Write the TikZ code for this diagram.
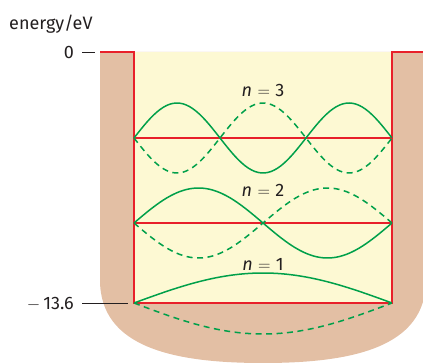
\documentclass[tikz,border=0pt]{standalone}
\usepackage{fontspec}
\setmainfont{Fira Sans}
\definecolor{wallbrown}{HTML}{E3BFA4}
\definecolor{wellyellow}{HTML}{FDF9D3}
\definecolor{levelred}{HTML}{E8202A}
\definecolor{wavegreen}{HTML}{00A04A}
\definecolor{txt}{HTML}{231F20}
\tikzset{
  lbl/.style={text=txt, font=\fontsize{18}{21}\selectfont, inner sep=0pt},
  tick/.style={draw=txt, line width=0.8pt},
  redline/.style={draw=levelred, line width=1.6pt},
  wave/.style={draw=wavegreen, line width=1.5pt},
  wavedash/.style={wave, dash pattern=on 6pt off 4.5pt}
}
\newcommand{\nlev}[1]{\textit{n}\hspace{0.3em}$=$\hspace{0.3em}#1}
\begin{document}
\begin{tikzpicture}[x=1pt,y=-1pt]
\useasboundingbox (0,0) rectangle (423,363);
% wall
\fill[wallbrown] (100,52) -- (100,280) .. controls (100,348) and (175,363) .. (263,363)
  .. controls (351,363) and (426,348) .. (426,280) -- (426,52) -- cycle;
\fill[wellyellow] (134,52) rectangle (392,303);
% levels
\draw[redline] (100,52) -- (134,52) -- (134,303) -- (392,303) -- (392,52) -- (423,52);
\coordinate (l2a) at (134,223); \coordinate (l2b) at (392,223);
\coordinate (l3a) at (134,138); \coordinate (l3b) at (392,138);
\draw[redline] (l2a) -- (l2b);
\draw[redline] (l3a) -- (l3b);
% waves n=3
\draw[wave] plot[domain=0:1, samples=80] ({134+258*\x}, {138-35*sin(540*\x)});
\draw[wavedash] plot[domain=0:1, samples=80] ({134+258*\x}, {138+35*sin(540*\x)});
% waves n=2
\draw[wave] plot[domain=0:1, samples=80] ({134+258*\x}, {223-35*sin(360*\x)});
\draw[wavedash] plot[domain=0:1, samples=80] ({134+258*\x}, {223+35*sin(360*\x)});
% waves n=1
\draw[wave] plot[domain=0:1, samples=80] ({134+258*\x}, {303-30*sin(180*\x)});
\draw[wavedash] plot[domain=0:1, samples=80] ({134+258*\x}, {303+31*sin(180*\x)});
% labels
\node[lbl, anchor=west] (axis) at (9,24) {energy/eV};
\node[lbl, anchor=east] (zero) at (74,53) {0};
\node[lbl, anchor=east] (bottom) at (74,304) {$-$\hspace{3pt}13.6};
\coordinate (t0) at (95,52);
\coordinate (t1) at (128,303);
\draw[tick] ([xshift=8pt]zero.east |- t0) -- (t0);
\draw[tick] ([xshift=8pt]bottom.east |- t1) -- (t1);
\node[lbl] (n3) at (263,90) {\nlev{3}};
\node[lbl] (n2) at (263,190) {\nlev{2}};
\node[lbl] (n1) at (263,264) {\nlev{1}};
\end{tikzpicture}
\end{document}
